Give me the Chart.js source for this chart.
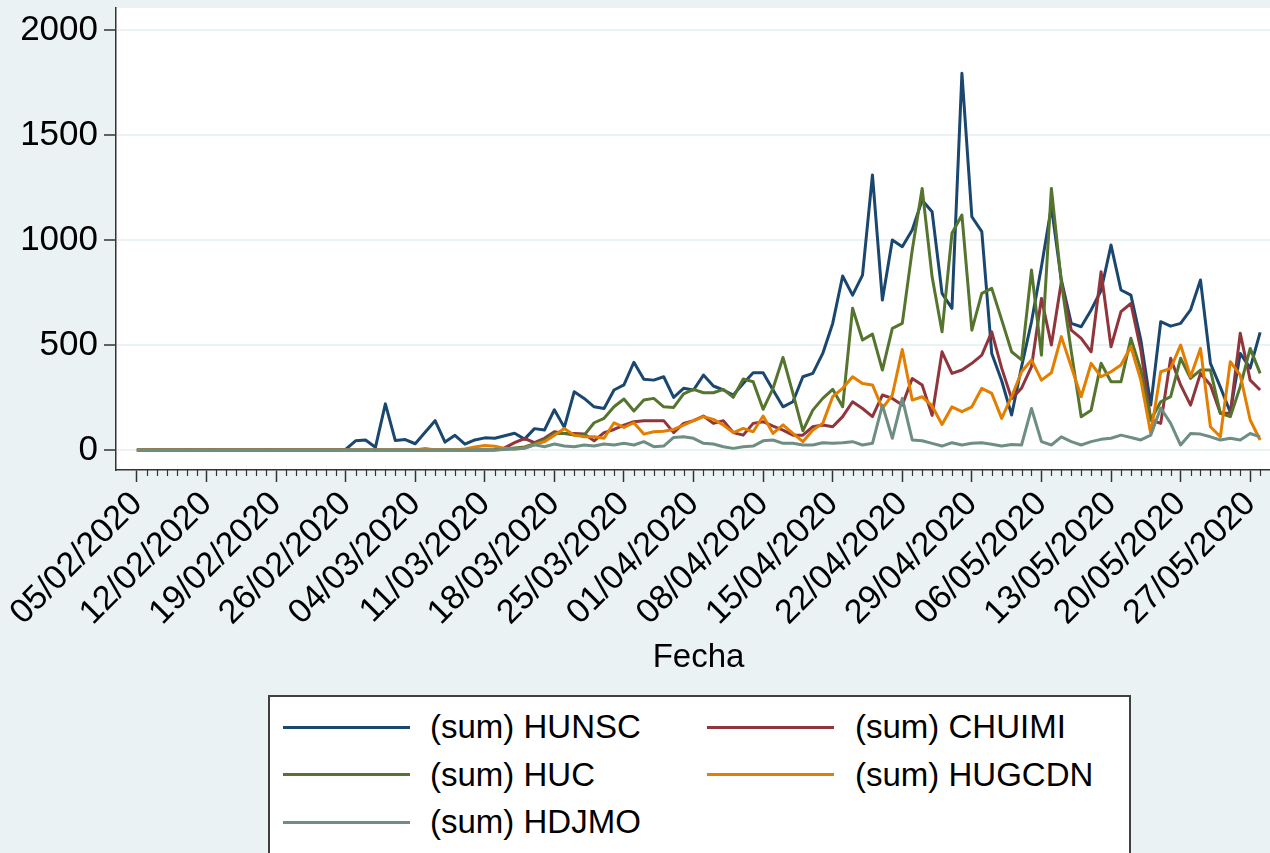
<!DOCTYPE html>
<html>
<head>
<meta charset="utf-8">
<script src="https://cdn.jsdelivr.net/npm/chart.js@4.4.0/dist/chart.umd.min.js"></script>
<style>
  html, body { margin: 0; padding: 0; background: #eaf2f3; }
  #wrap { position: relative; width: 1270px; height: 853px; overflow: hidden; background: #eaf2f3; }
  #grafico { position: absolute; left: 0; top: 0; }
  #leyenda { position: absolute; left: 268px; top: 695px; width: 863px; height: 200px;
             background: #fff; border: 2px solid #404040; box-sizing: border-box; }
  .linea { position: absolute; width: 127px; height: 3px; }
  .texto { position: absolute; font: 33px "Liberation Sans", Arial, sans-serif; color: #000;
           line-height: 40px; white-space: nowrap; }
</style>
</head>
<body>
<div id="wrap">
  <canvas id="grafico" width="1300" height="853"></canvas>
  <div id="leyenda"></div>
</div>
<script>
// Ingresos diarios por hospital, desde 05/02/2020 (un valor por dia)
const hunsc = [
  0, 0, 1, 0, 0, 2, 0, 0, 1, 0,
  0, 0, 0, 1, 0, 0, 0, 0, 0, 0,
  0, 3, 44, 48, 13, 220, 45, 50, 30, 85,
  140, 38, 70, 28, 48, 58, 56, 68, 80, 52,
  102, 95, 192, 108, 278, 246, 206, 198, 286, 310,
  418, 337, 333, 349, 251, 294, 286, 357, 305, 286,
  262, 317, 368, 368, 286, 206, 230, 349, 365, 460,
  603, 829, 738, 833, 1310, 714, 1000, 968, 1048, 1190,
  1135, 746, 675, 1794, 1111, 1040, 460, 330, 167, 397,
  611, 873, 1159, 810, 603, 587, 667, 760, 976, 762,
  738, 524, 214, 611, 590, 603, 667, 810, 413, 300,
  180, 460, 390, 560
];
const chuimi = [
  0, 0, 0, 0, 0, 0, 0, 1, 0, 0,
  0, 0, 0, 0, 0, 0, 0, 0, 0, 0,
  0, 0, 0, 0, 0, 0, 0, 0, 0, 0,
  0, 0, 0, 0, 0, 0, 2, 10, 35, 55,
  35, 56, 87, 79, 79, 76, 44, 83, 98, 119,
  135, 140, 140, 140, 83, 127, 140, 162, 127, 140,
  83, 71, 127, 135, 114, 95, 71, 71, 111, 119,
  111, 159, 230, 198, 159, 262, 246, 214, 341, 310,
  165, 468, 365, 381, 413, 452, 563, 390, 245, 295,
  397, 722, 500, 800, 571, 532, 468, 849, 492, 659,
  698, 476, 143, 127, 437, 310, 214, 365, 310, 175,
  175, 556, 333, 286
];
const huc = [
  0, 0, 0, 0, 0, 0, 0, 0, 0, 0,
  0, 0, 0, 0, 0, 0, 0, 0, 0, 0,
  0, 0, 0, 0, 0, 0, 0, 0, 0, 0,
  0, 0, 0, 0, 0, 0, 0, 5, 10, 15,
  30, 48, 79, 79, 71, 71, 130, 151, 206, 243,
  186, 238, 246, 206, 203, 267, 289, 273, 273, 289,
  251, 338, 325, 194, 294, 441, 270, 92, 190, 246,
  289, 206, 675, 524, 552, 381, 579, 603, 952, 1246,
  825, 563, 1032, 1119, 571, 746, 770, 620, 468, 429,
  857, 452, 1246, 800, 470, 159, 190, 413, 325, 325,
  532, 381, 143, 230, 254, 437, 341, 381, 381, 175,
  159, 302, 484, 365
];
const hugcdn = [
  0, 0, 0, 0, 0, 0, 0, 0, 0, 0,
  0, 0, 0, 0, 0, 0, 0, 0, 0, 0,
  0, 0, 0, 0, 0, 0, 0, 0, 0, 8,
  0, 0, 0, 5, 15, 22, 18, 8, 5, 10,
  25, 40, 71, 103, 71, 63, 63, 56, 130, 108,
  130, 76, 87, 90, 98, 119, 140, 159, 146, 119,
  83, 103, 87, 162, 79, 120, 79, 40, 95, 127,
  254, 294, 349, 317, 310, 198, 262, 479, 238, 254,
  210, 122, 206, 183, 206, 294, 270, 151, 254, 373,
  429, 333, 368, 540, 397, 254, 413, 349, 373, 405,
  492, 333, 79, 373, 389, 500, 349, 484, 111, 63,
  421, 357, 143, 48
];
const hdjmo = [
  0, 0, 0, 0, 0, 0, 0, 0, 0, 0,
  0, 0, 0, 0, 0, 0, 0, 0, 0, 0,
  0, 0, 0, 0, 0, 0, 0, 0, 0, 0,
  0, 0, 0, 0, 0, 0, 0, 3, 5, 8,
  25, 16, 29, 19, 16, 24, 19, 29, 24, 32,
  24, 40, 16, 19, 60, 63, 56, 32, 29, 16,
  8, 16, 19, 44, 48, 32, 32, 24, 24, 35,
  32, 35, 40, 24, 32, 214, 56, 246, 48, 44,
  32, 19, 35, 24, 32, 35, 28, 19, 26, 24,
  198, 40, 24, 63, 40, 24, 40, 51, 56, 71,
  60, 48, 71, 200, 127, 24, 79, 76, 63, 48,
  56, 48, 79, 63
];

// Etiquetas del eje x, una cada 7 dias
const fechas = ['05/02/2020', '12/02/2020', '19/02/2020', '26/02/2020', '04/03/2020',
  '11/03/2020', '18/03/2020', '25/03/2020', '01/04/2020', '08/04/2020', '15/04/2020',
  '22/04/2020', '29/04/2020', '06/05/2020', '13/05/2020', '20/05/2020', '27/05/2020'];
const ticksY = [0, 500, 1000, 1500, 2000];

const series = [
  { label: '(sum) HUNSC', data: hunsc, color: '#1a476f' },
  { label: '(sum) CHUIMI', data: chuimi, color: '#90353b' },
  { label: '(sum) HUC', data: huc, color: '#55752f' },
  { label: '(sum) HUGCDN', data: hugcdn, color: '#e37e00' },
  { label: '(sum) HDJMO', data: hdjmo, color: '#6e8e84' }
];

const FUENTE = '"Liberation Sans", Arial, sans-serif';
Chart.defaults.font.family = FUENTE;
Chart.defaults.color = '#000';

// Fondo blanco del area del grafico
const fondoPlot = {
  id: 'fondoPlot',
  beforeDraw(chart) {
    const { ctx, chartArea: a } = chart;
    ctx.save();
    ctx.fillStyle = '#ffffff';
    ctx.fillRect(a.left, a.top, a.right - a.left, a.bottom - a.top);
    ctx.restore();
  }
};

// Marcas menores diarias en el eje x
const ticksMenores = {
  id: 'ticksMenores',
  afterDraw(chart) {
    const { ctx, chartArea: a } = chart;
    const sx = chart.scales.x;
    ctx.save();
    ctx.strokeStyle = '#333';
    ctx.lineWidth = 1.2;
    for (let i = 0; i < hunsc.length; i++) {
      if (i % 7 === 0) continue;
      const px = Math.round(sx.getPixelForValue(i)) + 0.5;
      ctx.beginPath();
      ctx.moveTo(px, a.bottom);
      ctx.lineTo(px, a.bottom + 6);
      ctx.stroke();
    }
    ctx.restore();
  }
};

new Chart(document.getElementById('grafico'), {
  type: 'line',
  data: {
    datasets: series.map((s, i) => ({
      label: s.label,
      data: s.data.map((v, d) => ({ x: d, y: v })),
      borderColor: s.color,
      borderWidth: 3,
      borderJoinStyle: 'round',
      pointRadius: 0,
      tension: 0,
      fill: false,
      order: series.length - i
    }))
  },
  options: {
    responsive: false,
    animation: false,
    layout: { padding: { top: 8, right: 19, bottom: 175, left: 0 } },
    plugins: { legend: { display: false }, tooltip: { enabled: false } },
    scales: {
      x: {
        type: 'linear',
        min: -2.1,
        max: 115.1,
        afterBuildTicks: s => { s.ticks = fechas.map((f, i) => ({ value: i * 7 })); },
        afterFit: s => { s.height = 208; },
        ticks: {
          autoSkip: false,
          minRotation: 45,
          maxRotation: 45,
          padding: 2,
          font: { size: 34 },
          color: '#000',
          callback: (v, i) => fechas[i]
        },
        grid: { drawOnChartArea: false, tickLength: 12, tickColor: '#333', tickWidth: 1.5 },
        border: { display: true, color: '#333', width: 1.5 },
        title: { display: true, text: 'Fecha', font: { size: 33 }, color: '#000',
                 padding: { top: 0, bottom: 0 } }
      },
      y: {
        type: 'linear',
        min: -95,
        max: 2105,
        afterBuildTicks: s => { s.ticks = ticksY.map(v => ({ value: v })); },
        afterFit: s => { s.width = 116; s.paddingTop = 0; s.paddingBottom = 0; },
        ticks: { font: { size: 35 }, color: '#000', padding: 6, callback: v => String(v) },
        grid: { color: '#eaf2f3', lineWidth: 2, tickLength: 12, tickColor: '#333', tickWidth: 1.5 },
        border: { display: true, color: '#333', width: 1.5 }
      }
    }
  },
  plugins: [fondoPlot, ticksMenores]
});

// Leyenda en dos columnas, como en el original
const leyenda = document.getElementById('leyenda');
series.forEach((s, i) => {
  const fila = Math.floor(i / 2), col = i % 2;
  const cy = 30 + fila * 47.5;
  const linea = document.createElement('div');
  linea.className = 'linea';
  linea.style.background = s.color;
  linea.style.left = (13 + col * 424) + 'px';
  linea.style.top = (cy - 1.5) + 'px';
  leyenda.appendChild(linea);
  const texto = document.createElement('div');
  texto.className = 'texto';
  texto.textContent = s.label;
  texto.style.left = (160 + col * 425) + 'px';
  texto.style.top = (cy - 20) + 'px';
  leyenda.appendChild(texto);
});
</script>
</body>
</html>
